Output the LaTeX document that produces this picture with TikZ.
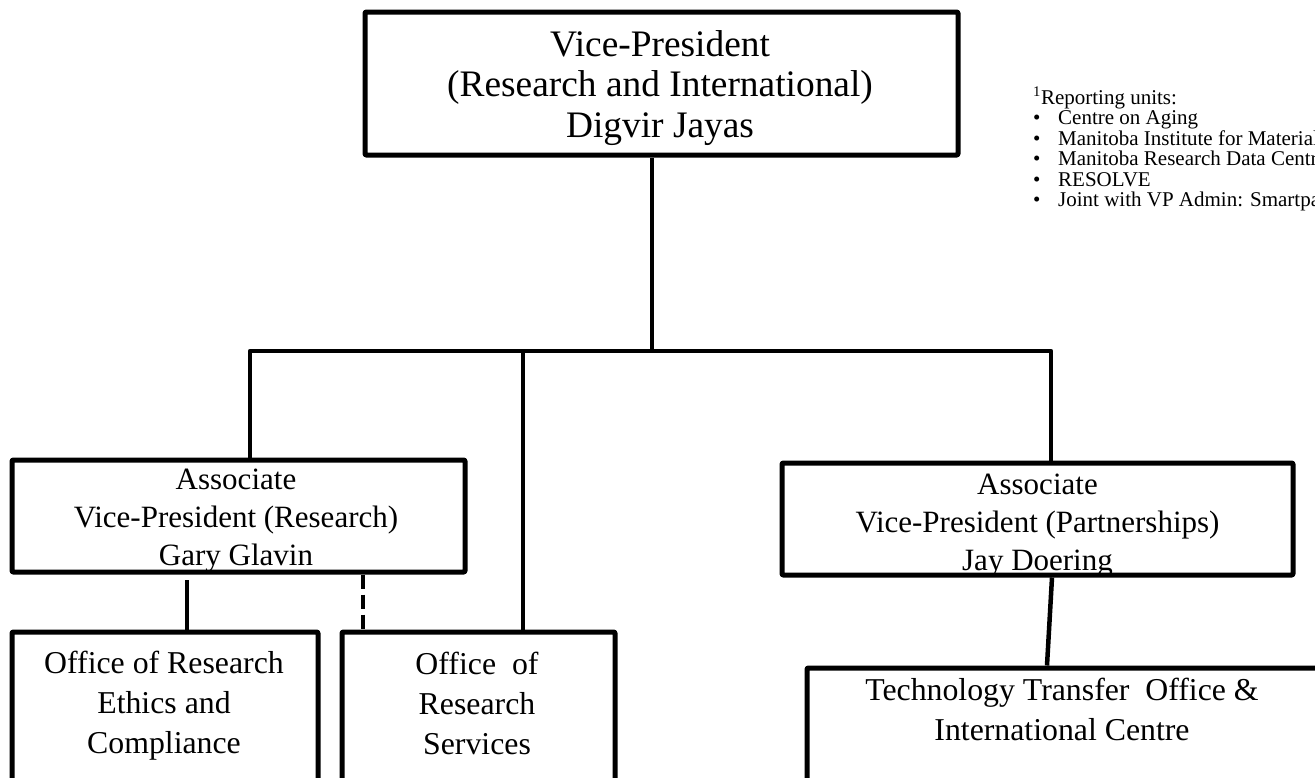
\documentclass[tikz,border=0pt]{standalone}
\usepackage{fontspec}
\setmainfont{Liberation Serif}
\begin{document}
\begin{tikzpicture}[x=1pt,y=-1pt,
  box/.style={draw, line width=5pt, line join=round, rounded corners=1pt, inner sep=0pt},
  conn/.style={line width=4.5pt, line join=round},
  dashconn/.style={line width=4.5pt, dash pattern=on 14pt off 6pt},
  bigtxt/.style={align=center, font=\fontsize{37.4}{40.5}\selectfont, inner sep=0pt},
  midtxt/.style={align=center, font=\fontsize{31}{38}\selectfont, inner sep=0pt},
  lowtxt/.style={align=center, font=\fontsize{31.8}{40}\selectfont, inner sep=0pt},
  notetxt/.style={align=left, font=\fontsize{21}{20.5}\selectfont, inner sep=0pt},
]
\useasboundingbox (0,0) rectangle (1315,777);
\clip (0,0) rectangle (1315,777);

% boxes
\node[box, minimum width=593pt, minimum height=143pt] (vp)   at (661.5,83.5) {};
\node[box, minimum width=453pt, minimum height=112pt] (avpr) at (238.5,516) {};
\node[box, minimum width=511pt, minimum height=112pt] (avpp) at (1037.5,519) {};
\node[box, minimum width=306pt, minimum height=200pt] (ore)  at (165,732) {};
\node[box, minimum width=273pt, minimum height=200pt] (ors)  at (478.5,732) {};
\node[box, minimum width=511pt, minimum height=200pt] (tto)  at (1062.5,768) {};

% box texts
\node[bigtxt] (vpT)   at (660,88)   {Vice-President\\(Research and International)\\Digvir Jayas};
\node[midtxt] (avprT) at (236,521)  {Associate\\Vice-President (Research)\\Gary Glavin};
\node[midtxt] (avppT) at (1037.5,526) {Associate\\Vice-President (Partnerships)\\Jay Doering};
\node[lowtxt] (oreT)  at (164,706)  {Office of Research\\Ethics and\\Compliance};
\node[lowtxt] (orsT)  at (477,703)  {Office~ of\\Research\\Services};
\node[lowtxt] (ttoT)  at (1062,709) {Technology Transfer~ Office \&\\International Centre};

% reporting units note
\node[notetxt, anchor=north west] (units) at (1033,87)
  {\textsuperscript{1}Reporting units:\\
   \makebox[25pt][l]{\textbullet}Centre on Aging\\
   \makebox[25pt][l]{\textbullet}Manitoba Institute for Materials\\
   \makebox[25pt][l]{\textbullet}Manitoba Research Data Centre\\
   \makebox[25pt][l]{\textbullet}RESOLVE\\
   \makebox[25pt][l]{\textbullet}Joint with VP Admin: Smartpark};

% connector anchors
\coordinate (busL) at (250,351);
\coordinate (busM) at (523,351);
\coordinate (busR) at (1051,351);
\coordinate (ecX)  at (187,580);
\coordinate (dsX)  at (363,600);

% connectors
\draw[conn] ([xshift=-9.5pt]vp.south) -- ([xshift=-9.5pt]vp.south |- busL);
\draw[conn] (avpr.north -| busL) -- (busL) -- (busR) -- (avpp.north -| busR);
\draw[conn] (busM) -- (ors.north -| busM);
\draw[conn] (ecX) -- (ore.north -| ecX);
\draw[dashconn] (avpr.south -| dsX) -- (ors.north -| dsX);
\draw[conn] ([xshift=14.5pt]avpp.south) -- ([xshift=-15.5pt]tto.north);
\end{tikzpicture}
\end{document}
